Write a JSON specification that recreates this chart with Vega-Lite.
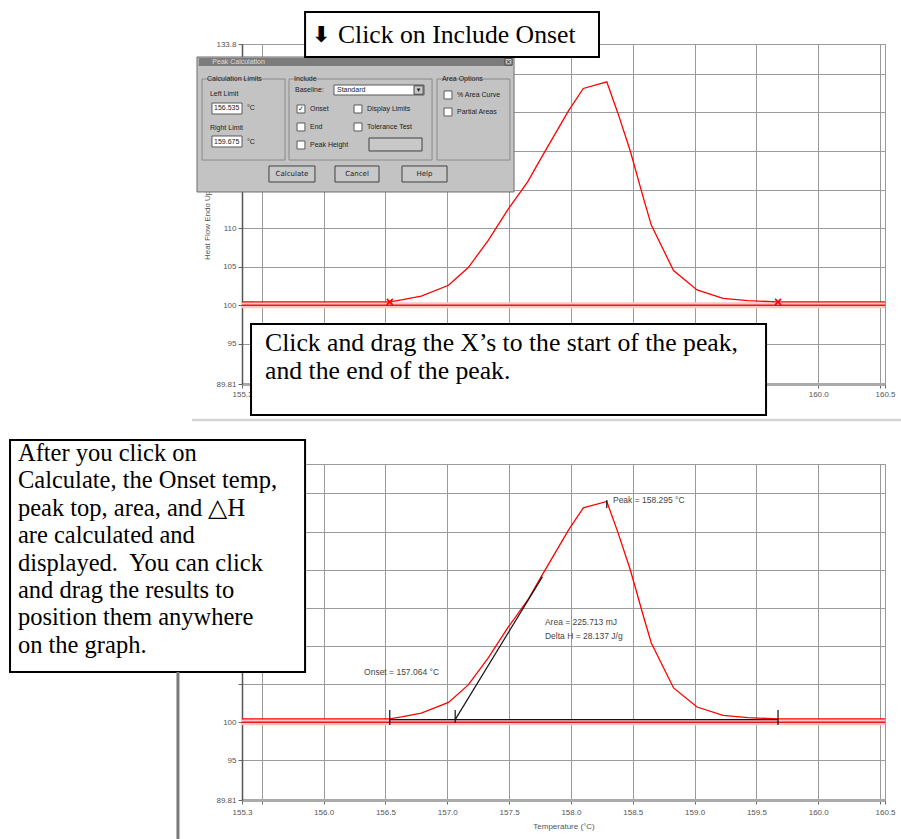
{
  "$schema": "https://vega.github.io/schema/vega-lite/v6.json",
  "background": "white",
  "padding": {"left": 8, "top": 10, "right": 0, "bottom": 0},
  "spacing": 16,
  "config": {
    "view": {"stroke": "#9a9a9a", "strokeWidth": 1},
    "axis": {
      "labelFont": "Liberation Sans", "labelFontSize": 8, "labelColor": "#555555",
      "titleFont": "Liberation Sans", "titleFontSize": 8, "titleFontWeight": "normal", "titleColor": "#555555",
      "gridColor": "#9a9a9a", "gridWidth": 1, "gridOpacity": 1,
      "tickColor": "#666666", "tickSize": 4, "domainColor": "#666666",
      "labelOverlap": false, "labelFlush": false
    }
  },
  "datasets": {
    "curve": [
      {"t": 155.34, "hf": 100.45}, {"t": 156.535, "hf": 100.45}, {"t": 156.63, "hf": 100.7},
      {"t": 156.79, "hf": 101.2}, {"t": 157.01, "hf": 102.6}, {"t": 157.17, "hf": 104.9},
      {"t": 157.33, "hf": 108.4}, {"t": 157.49, "hf": 112.4}, {"t": 157.65, "hf": 116.0},
      {"t": 157.76, "hf": 119.1}, {"t": 157.98, "hf": 125.2}, {"t": 158.1, "hf": 128.1},
      {"t": 158.29, "hf": 128.95}, {"t": 158.38, "hf": 124.9}, {"t": 158.48, "hf": 120.0},
      {"t": 158.59, "hf": 113.7}, {"t": 158.65, "hf": 110.4}, {"t": 158.83, "hf": 104.5},
      {"t": 159.02, "hf": 102.0}, {"t": 159.23, "hf": 100.9}, {"t": 159.43, "hf": 100.6},
      {"t": 159.675, "hf": 100.45}, {"t": 160.54, "hf": 100.45}
    ],
    "hline": [{"t": 155.34, "t2": 160.54, "hf": 100}],
    "limits": [{"t": 156.535, "hf": 100.45}, {"t": 159.675, "hf": 100.45}],
    "separator": [{"t": 154.936, "t2": 160.678, "hf": 85.146}],
    "rects_top": [
      {"kind": "body", "t": 154.976, "t2": 157.54, "hf": 114.686, "hf2": 132.176},
      {"kind": "title", "t": 154.99, "t2": 157.527, "hf": 131.01, "hf2": 132.06},
      {"kind": "frame", "t": 155.017, "t2": 155.688, "hf": 118.831, "hf2": 129.325},
      {"kind": "frame", "t": 155.72, "t2": 156.877, "hf": 118.831, "hf2": 129.325},
      {"kind": "frame", "t": 156.917, "t2": 157.507, "hf": 118.831, "hf2": 129.325},
      {"kind": "white", "t": 155.097, "t2": 155.34, "hf": 124.791, "hf2": 126.216},
      {"kind": "white", "t": 155.097, "t2": 155.34, "hf": 120.516, "hf2": 121.941},
      {"kind": "white", "t": 156.084, "t2": 156.812, "hf": 127.253, "hf2": 128.548},
      {"kind": "white", "t": 155.785, "t2": 155.849, "hf": 124.921, "hf2": 125.957},
      {"kind": "white", "t": 156.246, "t2": 156.31, "hf": 124.921, "hf2": 125.957},
      {"kind": "white", "t": 155.785, "t2": 155.849, "hf": 122.589, "hf2": 123.625},
      {"kind": "white", "t": 156.246, "t2": 156.31, "hf": 122.589, "hf2": 123.625},
      {"kind": "white", "t": 155.785, "t2": 155.849, "hf": 120.257, "hf2": 121.293},
      {"kind": "white", "t": 156.974, "t2": 157.038, "hf": 126.734, "hf2": 127.771},
      {"kind": "white", "t": 156.974, "t2": 157.038, "hf": 124.532, "hf2": 125.568},
      {"kind": "btn", "t": 157.467, "t2": 157.524, "hf": 131.139, "hf2": 132.0},
      {"kind": "btn", "t": 156.731, "t2": 156.805, "hf": 127.35, "hf2": 128.45},
      {"kind": "btn", "t": 156.367, "t2": 156.796, "hf": 120.0, "hf2": 121.682},
      {"kind": "btn", "t": 155.558, "t2": 155.93, "hf": 115.981, "hf2": 118.054},
      {"kind": "btn", "t": 156.092, "t2": 156.448, "hf": 115.981, "hf2": 118.054},
      {"kind": "btn", "t": 156.634, "t2": 156.998, "hf": 115.981, "hf2": 118.054},
      {"kind": "box", "t": 155.85, "t2": 158.227, "hf": 132.176, "hf2": 138.006},
      {"kind": "box", "t": 155.413, "t2": 159.578, "hf": 85.794, "hf2": 97.584}
    ],
    "texts_top": [
      {"kind": "ttl", "label": "Peak Calculation", "t": 155.1, "hf": 131.528},
      {"kind": "dlg", "label": "Calculation Limits", "t": 155.057, "hf": 129.325},
      {"kind": "dlg", "label": "Include", "t": 155.761, "hf": 129.325},
      {"kind": "dlg", "label": "Area Options", "t": 156.957, "hf": 129.325},
      {"kind": "dlg", "label": "Left Limit", "t": 155.081, "hf": 127.382},
      {"kind": "dlg", "label": "156.535", "t": 155.114, "hf": 125.504},
      {"kind": "dlg", "label": "°C", "t": 155.38, "hf": 125.504},
      {"kind": "dlg", "label": "Right Limit", "t": 155.081, "hf": 122.977},
      {"kind": "dlg", "label": "159.675", "t": 155.114, "hf": 121.228},
      {"kind": "dlg", "label": "°C", "t": 155.38, "hf": 121.228},
      {"kind": "dlg", "label": "Baseline:", "t": 155.769, "hf": 127.9},
      {"kind": "dlg", "label": "Standard", "t": 156.108, "hf": 127.9},
      {"kind": "dlg", "label": "Onset", "t": 155.89, "hf": 125.439},
      {"kind": "dlg", "label": "Display Limits", "t": 156.351, "hf": 125.439},
      {"kind": "dlg", "label": "End", "t": 155.89, "hf": 123.107},
      {"kind": "dlg", "label": "Tolerance Test", "t": 156.351, "hf": 123.107},
      {"kind": "dlg", "label": "Peak Height", "t": 155.89, "hf": 120.775},
      {"kind": "dlg", "label": "% Area Curve", "t": 157.079, "hf": 127.253},
      {"kind": "dlg", "label": "Partial Areas", "t": 157.079, "hf": 125.05},
      {"kind": "btext", "label": "Calculate", "t": 155.744, "hf": 117.017},
      {"kind": "btext", "label": "Cancel", "t": 156.27, "hf": 117.017},
      {"kind": "btext", "label": "Help", "t": 156.816, "hf": 117.017},
      {"kind": "btext", "label": "▾", "t": 156.768, "hf": 127.9},
      {"kind": "btext", "label": "×", "t": 157.495, "hf": 131.57},
      {"kind": "btext", "label": "✓", "t": 155.817, "hf": 125.439},
      {"kind": "arrow", "label": "⬇", "t": 155.906, "hf": 135.026},
      {"kind": "big", "label": "Click on Include Onset", "t": 156.116, "hf": 135.026},
      {"kind": "big", "label": "Click and drag the X’s to the start of the peak,", "t": 155.526, "hf": 95.122},
      {"kind": "big", "label": "and the end of the peak.", "t": 155.526, "hf": 91.494}
    ],
    "baseline": [{"t": 156.535, "t2": 159.675, "hf": 100.35}],
    "tangent": [{"t": 157.064, "hf": 100.35, "t2": 157.77, "hf2": 119.1}],
    "ticks": [
      {"t": 156.535, "hf": 99.64, "hf2": 101.61},
      {"t": 157.064, "hf": 99.9, "hf2": 101.61},
      {"t": 159.675, "hf": 99.64, "hf2": 101.61},
      {"t": 158.29, "hf": 128.09, "hf2": 129.14}
    ],
    "notes": [
      {"label": "Peak = 158.295 °C", "t": 158.34, "hf": 129.14},
      {"label": "Area = 225.713 mJ", "t": 157.79, "hf": 113.146},
      {"label": "Delta H = 28.137 J/g", "t": 157.79, "hf": 111.311},
      {"label": "Onset = 157.064 °C", "t": 156.327, "hf": 106.591}
    ],
    "box3": [{"t": 153.464, "t2": 155.85, "hf": 106.591, "hf2": 137.006}],
    "box3text": [
      {"label": "After you click on", "t": 153.528, "hf": 135.171},
      {"label": "Calculate, the Onset temp,", "t": 153.528, "hf": 131.579},
      {"label": "peak top, area, and △H", "t": 153.528, "hf": 127.987},
      {"label": "are calculated and", "t": 153.528, "hf": 124.394},
      {"label": "displayed.\u00a0 You can click", "t": 153.528, "hf": 120.802},
      {"label": "and drag the results to", "t": 153.528, "hf": 117.21},
      {"label": "position them anywhere", "t": 153.528, "hf": 113.618},
      {"label": "on the graph.", "t": 153.528, "hf": 110.026}
    ],
    "vline": [{"t": 154.822, "hf": 84.7, "hf2": 106.591}]
  },
  "vconcat": [
    {
      "width": 643,
      "height": 340,
      "encoding": {
        "x": {
          "field": "t", "type": "quantitative",
          "scale": {"domain": [155.34, 160.54], "nice": false, "zero": false},
          "axis": {
            "values": [155.34, 155.5, 156, 156.5, 157, 157.5, 158, 158.5, 159, 159.5, 160, 160.5, 160.54],
            "labelExpr": "datum.value == 155.5 || datum.value == 160.5 ? '' : format(datum.value, '.1f')",
            "title": null, "grid": true, "domainColor": "#aaaaaa", "domainWidth": 3
          }
        },
        "y": {
          "field": "hf", "type": "quantitative",
          "scale": {"domain": [89.81, 133.86], "nice": false, "zero": false},
          "axis": {
            "values": [89.81, 95, 100, 105, 110, 115, 120, 125, 130, 133.86],
            "labelExpr": "datum.value == 89.81 ? '89.81' : datum.value > 133 ? '133.8' : datum.value <= 110 ? format(datum.value, 'd') : ''",
            "title": "Heat Flow Endo Up (mW)", "grid": true, "domainColor": "#555555", "domainWidth": 1.5, "titlePadding": 4
          }
        }
      },
      "layer": [
        {"data": {"name": "hline"}, "mark": {"type": "rule", "stroke": "#ffc4c4", "strokeWidth": 6}, "encoding": {"x2": {"field": "t2"}}},
        {"data": {"name": "hline"}, "mark": {"type": "rule", "stroke": "#e81818", "strokeWidth": 1.5}, "encoding": {"x2": {"field": "t2"}}},
        {"data": {"name": "curve"}, "mark": {"type": "line", "stroke": "#ff0000", "strokeWidth": 1.3}},
        {"data": {"name": "limits"}, "mark": {"type": "point", "shape": "M-1,-1L1,1M-1,1L1,-1", "filled": false, "stroke": "#ff0000", "strokeWidth": 1.6, "size": 36, "opacity": 1}},
        {"data": {"name": "separator"}, "mark": {"type": "rule", "stroke": "#d4d4d4", "strokeWidth": 2.5}, "encoding": {"x2": {"field": "t2"}}},
        {"data": {"name": "rects_top"}, "transform": [{"filter": "datum.kind == 'body'"}], "mark": {"type": "rect", "fill": "#c3c3c3", "stroke": "#6e6e6e", "strokeWidth": 1}, "encoding": {"x2": {"field": "t2"}, "y2": {"field": "hf2"}}},
        {"data": {"name": "rects_top"}, "transform": [{"filter": "datum.kind == 'title'"}], "mark": {"type": "rect", "fill": "#7c7c7c"}, "encoding": {"x2": {"field": "t2"}, "y2": {"field": "hf2"}}},
        {"data": {"name": "rects_top"}, "transform": [{"filter": "datum.kind == 'frame'"}], "mark": {"type": "rect", "fill": "#c3c3c3", "fillOpacity": 0, "stroke": "#8a8a8a", "strokeWidth": 1}, "encoding": {"x2": {"field": "t2"}, "y2": {"field": "hf2"}}},
        {"data": {"name": "rects_top"}, "transform": [{"filter": "datum.kind == 'white'"}], "mark": {"type": "rect", "fill": "#ffffff", "stroke": "#5a5a5a", "strokeWidth": 1}, "encoding": {"x2": {"field": "t2"}, "y2": {"field": "hf2"}}},
        {"data": {"name": "rects_top"}, "transform": [{"filter": "datum.kind == 'btn'"}], "mark": {"type": "rect", "fill": "#c8c8c8", "stroke": "#404040", "strokeWidth": 1}, "encoding": {"x2": {"field": "t2"}, "y2": {"field": "hf2"}}},
        {"data": {"name": "texts_top"}, "transform": [{"filter": "datum.kind == 'ttl'"}], "mark": {"type": "text", "align": "left", "baseline": "middle", "font": "Liberation Sans", "fontSize": 7, "fill": "#dcdcdc"}, "encoding": {"text": {"field": "label"}}},
        {"data": {"name": "texts_top"}, "transform": [{"filter": "datum.kind == 'dlg'"}], "mark": {"type": "text", "align": "left", "baseline": "middle", "font": "Liberation Sans", "fontSize": 7, "fill": "#222222"}, "encoding": {"text": {"field": "label"}}},
        {"data": {"name": "texts_top"}, "transform": [{"filter": "datum.kind == 'btext'"}], "mark": {"type": "text", "align": "center", "baseline": "middle", "font": "DejaVu Sans", "fontSize": 7, "fill": "#222222"}, "encoding": {"text": {"field": "label"}}},
        {"data": {"name": "rects_top"}, "transform": [{"filter": "datum.kind == 'box'"}], "mark": {"type": "rect", "fill": "#ffffff", "stroke": "#000000", "strokeWidth": 2}, "encoding": {"x2": {"field": "t2"}, "y2": {"field": "hf2"}}},
        {"data": {"name": "texts_top"}, "transform": [{"filter": "datum.kind == 'arrow'"}], "mark": {"type": "text", "align": "left", "baseline": "middle", "font": "DejaVu Sans", "fontSize": 22, "fontWeight": "bold", "fill": "#000000"}, "encoding": {"text": {"field": "label"}}},
        {"data": {"name": "texts_top"}, "transform": [{"filter": "datum.kind == 'big'"}], "mark": {"type": "text", "align": "left", "baseline": "middle", "font": "Liberation Serif", "fontSize": 25.7, "fill": "#000000"}, "encoding": {"text": {"field": "label"}}}
      ]
    },
    {
      "width": 643,
      "height": 336,
      "encoding": {
        "x": {
          "field": "t", "type": "quantitative",
          "scale": {"domain": [155.34, 160.54], "nice": false, "zero": false},
          "axis": {
            "values": [155.34, 155.5, 156, 156.5, 157, 157.5, 158, 158.5, 159, 159.5, 160, 160.5, 160.54],
            "labelExpr": "datum.value == 155.5 || datum.value == 160.5 ? '' : format(datum.value, '.1f')",
            "title": "Temperature (°C)", "grid": true, "domainColor": "#aaaaaa", "domainWidth": 3, "labelPadding": 4, "titlePadding": 6
          }
        },
        "y": {
          "field": "hf", "type": "quantitative",
          "scale": {"domain": [89.81, 133.86], "nice": false, "zero": false},
          "axis": {
            "values": [89.81, 95, 100, 105, 110, 115, 120, 125, 130, 133.86],
            "labelExpr": "datum.value == 89.81 ? '89.81' : datum.value <= 100 ? format(datum.value, 'd') : ''",
            "title": null, "grid": true, "domainColor": "#555555", "domainWidth": 1.5
          }
        }
      },
      "layer": [
        {"data": {"name": "hline"}, "mark": {"type": "rule", "stroke": "#ffc4c4", "strokeWidth": 6}, "encoding": {"x2": {"field": "t2"}}},
        {"data": {"name": "hline"}, "mark": {"type": "rule", "stroke": "#e81818", "strokeWidth": 1.5}, "encoding": {"x2": {"field": "t2"}}},
        {"data": {"name": "curve"}, "mark": {"type": "line", "stroke": "#ff0000", "strokeWidth": 1.3}},
        {"data": {"name": "baseline"}, "mark": {"type": "rule", "stroke": "#111111", "strokeWidth": 1.2}, "encoding": {"x2": {"field": "t2"}}},
        {"data": {"name": "tangent"}, "mark": {"type": "rule", "stroke": "#111111", "strokeWidth": 1.2}, "encoding": {"x2": {"field": "t2"}, "y2": {"field": "hf2"}}},
        {"data": {"name": "ticks"}, "mark": {"type": "rule", "stroke": "#111111", "strokeWidth": 1.2}, "encoding": {"y2": {"field": "hf2"}}},
        {"data": {"name": "notes"}, "mark": {"type": "text", "align": "left", "baseline": "middle", "font": "Liberation Sans", "fontSize": 8.5, "fill": "#444444"}, "encoding": {"text": {"field": "label"}}},
        {"data": {"name": "box3"}, "mark": {"type": "rect", "fill": "#ffffff", "stroke": "#000000", "strokeWidth": 2}, "encoding": {"x2": {"field": "t2"}, "y2": {"field": "hf2"}}},
        {"data": {"name": "box3text"}, "mark": {"type": "text", "align": "left", "baseline": "middle", "font": "Liberation Serif", "fontSize": 24.5, "fill": "#000000"}, "encoding": {"text": {"field": "label"}}},
        {"data": {"name": "vline"}, "mark": {"type": "rule", "stroke": "#7a7a7a", "strokeWidth": 3}, "encoding": {"y2": {"field": "hf2"}}}
      ]
    }
  ]
}
